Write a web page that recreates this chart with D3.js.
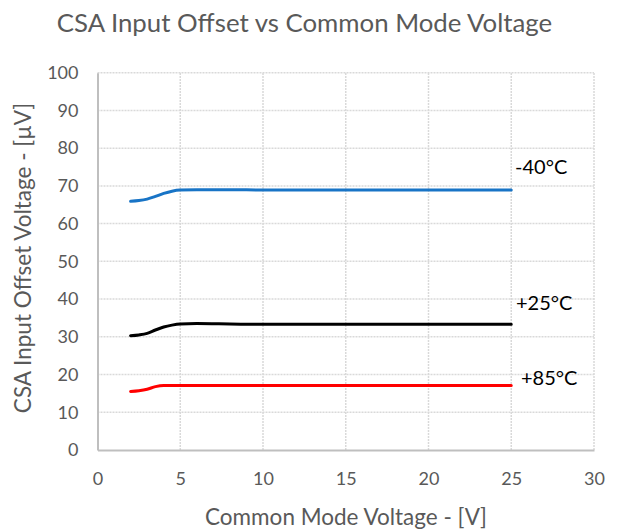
<!DOCTYPE html>
<html><head><meta charset="utf-8">
<script src="https://cdn.jsdelivr.net/npm/d3@7"></script>
<style>body{margin:0;background:#fff}svg{display:block}text{font-family:Lato,"Open Sans",sans-serif}</style>
</head><body>
<script>
const xTicks = [0,5,10,15,20,25,30];
const yTicks = [0,10,20,30,40,50,60,70,80,90,100];
const voltage = [2, 2.5, 3, 3.5, 4, 4.5, 5, 6, 8, 10, 15, 20, 25];
const m40 = [65.9, 66.1, 66.5, 67.2, 68.0, 68.6, 68.9, 69.0, 69.0, 68.9, 68.9, 68.9, 68.9];
const p25 = [30.3, 30.5, 30.9, 31.8, 32.6, 33.1, 33.4, 33.5, 33.4, 33.3, 33.3, 33.3, 33.3];
const p85 = [15.5, 15.7, 16.1, 16.8, 17.1, 17.1, 17.1, 17.1, 17.1, 17.1, 17.1, 17.1, 17.1];
const seriesNames = ["-40°C", "+25°C", "+85°C"];
const seriesColors = ["#1874c6", "#000000", "#ff0000"];

const W = 620, H = 531;
const svg = d3.select("body").append("svg").attr("width", W).attr("height", H);
const x = d3.scaleLinear().domain([0,30]).range([97.5, 594]);
const y = d3.scaleLinear().domain([0,100]).range([450, 72.7]);

// gridlines
svg.append("g").selectAll("line.h").data(yTicks.filter(d=>d>0)).join("line")
  .attr("x1", x(0)).attr("x2", x(30)).attr("y1", d=>y(d)).attr("y2", d=>y(d))
  .attr("stroke", "#d9d9d9").attr("stroke-width", 1.5).attr("stroke-dasharray", "2,1");
svg.append("g").selectAll("line.v").data(xTicks.filter(d=>d>0)).join("line")
  .attr("x1", d=>x(d)).attr("x2", d=>x(d)).attr("y1", y(0)).attr("y2", y(100))
  .attr("stroke", "#d9d9d9").attr("stroke-width", 1.5).attr("stroke-dasharray", "2,1");

// axes
const xAxis = d3.axisBottom(x).tickValues(xTicks).tickSize(0).tickPadding(22);
const yAxis = d3.axisLeft(y).tickValues(yTicks).tickSize(0).tickPadding(19);
const gx = svg.append("g").attr("transform", `translate(0,${y(0)})`).call(xAxis);
const gy = svg.append("g").attr("transform", `translate(${x(0)},0)`).call(yAxis);
[gx, gy].forEach(g => {
  g.select(".domain").attr("stroke", "#bfbfbf").attr("stroke-width", 2);
  g.selectAll("text").attr("font-size", 18).attr("fill", "#595959").attr("font-family", "Lato,sans-serif");
});
gx.selectAll("text").attr("dy", "0.71em");

// lines
const all = [m40, p25, p85];
const line = d3.line().x((d,i)=>x(voltage[i])).y(d=>y(d)).curve(d3.curveMonotoneX);
all.forEach((s,k) => {
  svg.append("path").datum(s).attr("d", line).attr("fill","none")
    .attr("stroke", seriesColors[k]).attr("stroke-width", 3).attr("stroke-linecap","round");
});

// series labels
const labelPos = [[515, 174], [516, 310], [521, 385]];
seriesNames.forEach((n,k) => {
  svg.append("text").attr("x", labelPos[k][0]).attr("y", labelPos[k][1])
    .attr("font-size", 20).attr("fill", "#000").text(n);
});

// titles
svg.append("text").attr("x", 304.5).attr("y", 32).attr("text-anchor","middle")
  .attr("font-size", 25.8).attr("fill", "#595959").text("CSA Input Offset vs Common Mode Voltage");
svg.append("text").attr("x", 346).attr("y", 525).attr("text-anchor","middle")
  .attr("font-size", 22.5).attr("fill", "#595959").text("Common Mode Voltage - [V]");
svg.append("text").attr("transform", "translate(31,258) rotate(-90)").attr("text-anchor","middle")
  .attr("font-size", 22.5).attr("fill", "#595959").text("CSA Input Offset Voltage - [µV]");
</script>
</body></html>
